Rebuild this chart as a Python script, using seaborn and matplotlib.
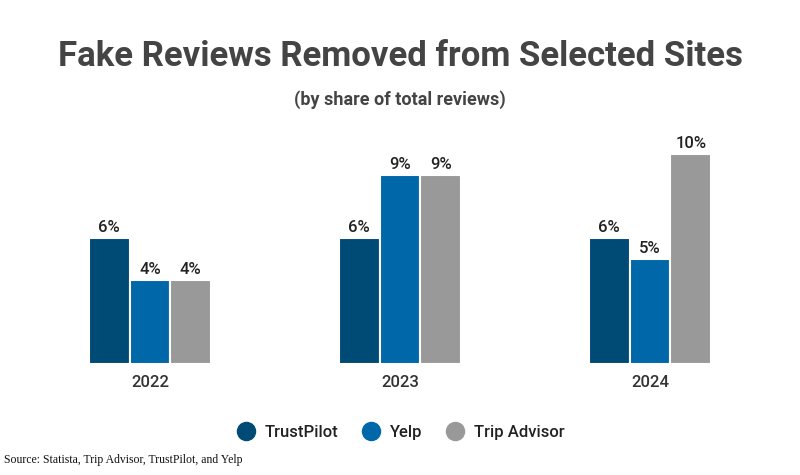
import matplotlib
matplotlib.use("Agg")
import matplotlib.pyplot as plt
import seaborn as sns
import pandas as pd
from matplotlib.lines import Line2D

years = ["2022", "2023", "2024"]
sites = ["TrustPilot", "Yelp", "Trip Advisor"]
trustpilot = [6, 6, 6]
yelp = [4, 9, 5]
tripadvisor = [4, 9, 10]
colors = ["#004a76", "#0067a8", "#999999"]

rows = []
for s, vals in zip(sites, [trustpilot, yelp, tripadvisor]):
    for y, v in zip(years, vals):
        rows.append({"Year": y, "Site": s, "Value": v})
df = pd.DataFrame(rows)

plt.rcParams["font.family"] = "Roboto"
fig = plt.figure(figsize=(8, 4.75), dpi=100)
ax = fig.add_axes([0, 0.2337, 1, 0.486])
sns.barplot(data=df, x="Year", y="Value", hue="Site", palette=colors, width=0.49,
            edgecolor="white", linewidth=1.5, saturation=1, ax=ax, legend=False)
ax.set_xlim(-0.6, 2.6)
ax.set_ylim(0, 11)
for c in ax.containers:
    ax.bar_label(c, labels=[f"{int(v)}%" for v in c.datavalues], padding=2,
                 fontsize=12, fontweight="medium", color="#222222")
for sp in ax.spines.values():
    sp.set_visible(False)
ax.set_yticks([])
ax.set_xlabel("")
ax.set_ylabel("")
ax.tick_params(axis="x", length=0, labelsize=12, colors="#333333", pad=8)
for t in ax.get_xticklabels():
    t.set_fontweight("medium")

fig.text(0.5, 0.88, "Fake Reviews Removed from Selected Sites", ha="center", va="center",
         fontsize=25, fontweight="bold", color="#444444")
fig.text(0.5, 0.79, "(by share of total reviews)", ha="center", va="center",
         fontsize=13, fontweight="bold", color="#444444")
handles = [Line2D([], [], marker="o", linestyle="", markersize=13, color=c) for c in colors]
leg = fig.legend(handles, sites, loc="center", bbox_to_anchor=(0.496, 0.09), ncol=3,
                 frameon=False, fontsize=12, handletextpad=0.1, columnspacing=1.0)
for t in leg.get_texts():
    t.set_fontweight("medium")
    t.set_color("#222222")
fig.text(0.005, 0.026, "Source: Statista, Trip Advisor, TrustPilot, and Yelp",
         fontsize=8.5, family="Liberation Serif", color="#111111")
fig.savefig("out.png", dpi=100)
